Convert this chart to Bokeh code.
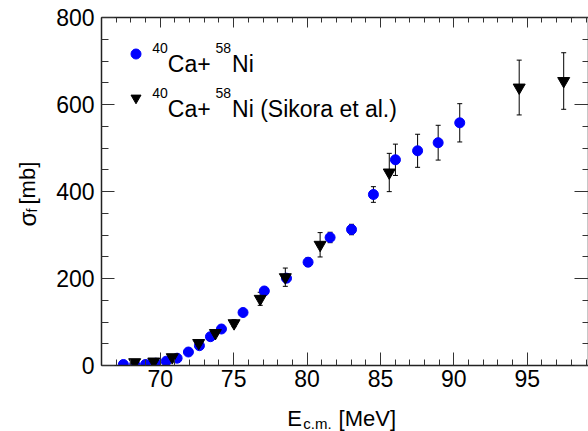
import math
from bokeh.plotting import figure
from bokeh.models import (ColumnDataSource, LinearAxis, SingleIntervalTicker, Range1d,
                          Whisker, TeeHead, Legend, LegendItem, Label)
from bokeh.embed import file_html
from bokeh.resources import INLINE

# ---- data ----
ca_e = [67.49, 68.26, 69.00, 69.70, 70.41, 71.15, 71.92, 72.67, 73.42, 74.17,
        75.64, 77.09, 78.60, 80.07, 81.57, 83.03, 84.52, 86.02, 87.53, 88.93, 90.40]
ca_sigma = [2.3, 2.3, 2.3, 5.3, 9.9, 16.8, 31.0, 45.5, 66.2, 83.9,
            121.8, 171.3, 200.7, 237.5, 294.3, 312.6, 393.1, 472.9, 493.6, 512.2, 557.9]
ca_err = [0.5, 0.5, 0.6, 0.8, 1.2, 1.8, 2.5, 3.5, 4.5, 5.5,
          6.5, 8.0, 9.0, 10.0, 12.0, 12.0, 18.0, 36.0, 38.0, 40.0, 44.0]

sik_e = [68.26, 69.56, 70.82, 72.62, 73.76, 75.03, 76.81, 78.52, 80.89, 85.60, 94.45, 97.48]
sik_sigma = [7.6, 9.2, 19.1, 51.7, 74.7, 97.2, 153.3, 203.0, 277.5, 443.7, 639.0, 654.0]
sik_err = [1.0, 1.5, 2.0, 4.0, 5.0, 8.0, 15.0, 21.0, 28.0, 44.0, 63.0, 65.0]

x_major, x_minor = 5, 5
y_major, y_minor = 200, 4

src_ca = ColumnDataSource(dict(e=ca_e, s=ca_sigma,
                               lo=[s - d for s, d in zip(ca_sigma, ca_err)],
                               hi=[s + d for s, d in zip(ca_sigma, ca_err)]))
src_sik = ColumnDataSource(dict(e=sik_e, s=sik_sigma,
                                lo=[s - d for s, d in zip(sik_sigma, sik_err)],
                                hi=[s + d for s, d in zip(sik_sigma, sik_err)]))

FONT = "Liberation Sans"
X0, X1 = 66.0, 99.17
Y0, Y1 = 0.0, 800.0
FL, FR, FT, FB = 101, 586, 17, 365   # frame edges in page pixels

p = figure(width=588, height=431, output_backend="svg", toolbar_location=None,
           x_range=Range1d(X0, X1), y_range=Range1d(Y0, Y1),
           x_axis_type=None, y_axis_type=None,
           min_border_left=FL, min_border_right=0, min_border_top=FT, min_border_bottom=431 - FB)
p.outline_line_color = None
p.background_fill_color = "white"
p.border_fill_color = "white"


def make_axis(ticker, tick_in, minor_in, labels, standoff=0):
    ax = LinearAxis(ticker=ticker)
    ax.axis_line_color = "#222222"
    ax.axis_line_width = 1.5
    ax.major_tick_in = tick_in
    ax.major_tick_out = 0
    ax.minor_tick_in = minor_in
    ax.minor_tick_out = 0
    ax.major_tick_line_color = "#333333"
    ax.minor_tick_line_color = "#333333"
    ax.major_tick_line_width = 1
    ax.minor_tick_line_width = 1
    if labels:
        ax.major_label_text_font = FONT
        ax.major_label_text_font_size = "23px"
        ax.major_label_text_color = "black"
        ax.major_label_standoff = standoff
    else:
        # mirror axis: ticks only, its tick labels are not drawn at all
        ax.major_label_text_font_size = "0px"
        ax.major_label_text_color = None
        ax.major_label_text_alpha = 0
        ax.major_label_standoff = 0
    return ax


p.add_layout(make_axis(SingleIntervalTicker(interval=x_major, num_minor_ticks=x_minor), 13, 6, True, 4), "below")
p.add_layout(make_axis(SingleIntervalTicker(interval=y_major, num_minor_ticks=y_minor), 13, 7, True, 7), "left")
p.add_layout(make_axis(SingleIntervalTicker(interval=x_major, num_minor_ticks=x_minor), 10, 5, False), "above")
p.add_layout(make_axis(SingleIntervalTicker(interval=y_major, num_minor_ticks=y_minor), 14, 6, False), "right")

for src in (src_ca, src_sik):
    w = Whisker(source=src, base="e", upper="hi", lower="lo", line_color="black", line_width=1,
                upper_head=TeeHead(size=5, line_color="black", line_width=1),
                lower_head=TeeHead(size=5, line_color="black", line_width=1))
    w.level = "underlay"
    p.add_layout(w)

r1 = p.scatter("e", "s", source=src_ca, marker="circle", size=10,
               fill_color="#0000ff", line_color="#0000ff")
r2 = p.scatter("e", "s", source=src_sik, marker="inverted_triangle", size=12,
               fill_color="black", line_color="black")

legend = Legend(items=[LegendItem(label=" ", renderers=[r1]),
                       LegendItem(label=" ", renderers=[r2])],
                location="top_left", margin=22, padding=0,
                glyph_width=25, glyph_height=29, spacing=15,
                label_text_font_size="1px", label_standoff=0, label_width=0, label_height=0,
                border_line_color=None, background_fill_alpha=0)
p.add_layout(legend)


def dx(px):
    return X0 + (px - FL) * (X1 - X0) / (FR - FL)


def dy(py):
    return Y0 + (FB - py) * (Y1 - Y0) / (FB - FT)


def lab(txt, px, py, size, angle=0.0, side=None):
    lb = Label(x=dx(px), y=dy(py), x_units="data", y_units="data", text=txt,
               text_font=FONT, text_font_size=f"{size}px", text_color="black",
               text_baseline="alphabetic", text_align="left", angle=angle)
    if side is None:
        p.add_layout(lb)
    else:
        p.add_layout(lb, side)


# legend texts (inside the frame)
for base_y, tail in ((63.5, "Ni"), (108.5, "Ni (Sikora et al.)")):
    lab("40", 151.5, base_y - 16, 14)
    lab("Ca+", 167, base_y, 23)
    lab("58", 214.5, base_y - 16, 14)
    lab(tail, 231, base_y, 23)

NB = "\u00a0"
# axis titles live in the side panels so that they are not clipped to the frame
lab("E" + NB * 6 + "[MeV]", 286, 417.5, 22, side="below")
lab("f", 32, 212, 14, math.pi / 2, side="below")
lab("c.m.", 302, 422.5, 15, side="above")
lab("[mb]", 27.5, 204, 22, math.pi / 2, side="left")
lab("σ", 27.5, 226, 24, math.pi / 2, side="left")

open("out.html", "w").write(file_html(p, INLINE))
